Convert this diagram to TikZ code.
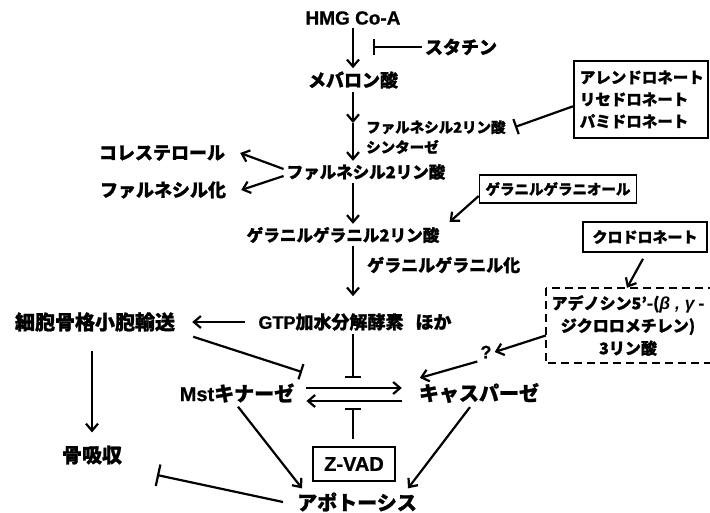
\documentclass[tikz,border=0pt]{standalone}
\usepackage{fontspec}
\setmainfont{Liberation Sans}
\newfontfamily\jp{Noto Sans CJK JP}[BoldFeatures={FakeBold=1.2}]
\newfontfamily\lat{Liberation Sans}[BoldFeatures={FakeBold=0.8}]
\usetikzlibrary{arrows.meta,calc}
\begin{document}
\begin{tikzpicture}[x=1pt,y=-1pt,
  lw/.style={line width=2.2pt},
  arr/.style={lw,-{Straight Barb[length=7pt,width=12pt]}},
  inh/.style={lw,-{Bar[width=16pt]}},
  jpL/.style={font=\jp\bfseries\fontsize{20}{24}\selectfont, inner sep=3pt},
  jpM/.style={font=\jp\bfseries\fontsize{18}{22}\selectfont, inner sep=3pt},
  jpS/.style={font=\jp\bfseries\fontsize{16}{20}\selectfont, inner sep=3pt},
  latL/.style={font=\lat\bfseries\fontsize{20}{24}\selectfont, inner sep=3pt},
  boxed/.style={draw, line width=1.6pt},
]
\useasboundingbox (0,0) rectangle (710,512);
\clip (0,0) rectangle (710,512);
\coordinate (col) at (353,0);

% top chain
\node[latL, font=\lat\bfseries\fontsize{19}{23}\selectfont] (hmg) at (353,18) {HMG Co-A};
\node[jpM] (statin) at (461,47) {スタチン};
\coordinate (statT) at (373,47);
\node[jpM] (mev) at (353,80) {メバロン酸};
\coordinate (mid) at (353,123);
\node[jpS, font=\jp\bfseries\fontsize{14.5}{20}\selectfont, anchor=west, align=left] (fpps) at (363,137) {ファルネシル2リン酸\\シンターゼ};
\node[boxed, font=\jp\bfseries\fontsize{15.5}{22}\selectfont, anchor=north west,
      minimum width=134pt, minimum height=77pt, align=left, text width=122pt,
      inner xsep=6pt] (bis) at (573,60) {アレンドロネート\\リセドロネート\\パミドロネート};
\coordinate (bisT) at (515,127);
\node[jpM, font=\jp\bfseries\fontsize{16.5}{20}\selectfont] (fpp) at (366,172) {ファルネシル2リン酸};
\node[jpM] (chol) at (162,153) {コレステロール};
\node[jpM] (farn) at (163,190) {ファルネシル化};
\node[jpM, font=\jp\bfseries\fontsize{16.6}{20}\selectfont] (ggpp) at (343,235) {ゲラニルゲラニル2リン酸};
\node[boxed, font=\jp\bfseries\fontsize{14.5}{18}\selectfont,
      minimum width=157pt, minimum height=28pt] (ggoh) at (558,189) {ゲラニルゲラニオール};
\node[jpM, font=\jp\bfseries\fontsize{17}{20}\selectfont, anchor=west] (ggl) at (364,265) {ゲラニルゲラニル化};
\node[jpM] (gtp) at (355,322) {{\lat\bfseries GTP}加水分解酵素\hspace{12pt}ほか};

% right side
\node[boxed, font=\jp\bfseries\fontsize{15}{18}\selectfont,
      minimum width=124pt, minimum height=30pt] (clod) at (645,237) {クロドロネート};
\node[minimum width=164pt, minimum height=75pt, align=center,
      font=\jp\bfseries\fontsize{16}{22.5}\selectfont] (adp) at (628,325.5)
      {アデノシン5’-({\lat\bfseries\itshape\fontsize{17.5}{22.5}\selectfont β , γ} -\\ジクロロメチレン)\\3リン酸};
\draw[line width=1.6pt, dash pattern=on 8pt off 5pt] (adp.north west) rectangle ($(adp.south east)+(60,0)$);
\node[latL, font=\lat\bfseries\fontsize{18}{22}\selectfont] (q) at (486,352) {?};

% bottom
\node[jpL] (cyto) at (95,322) {細胞骨格小胞輸送};
\node[jpL] (mst) at (237,393) {{\lat\bfseries Mst}キナーゼ};
\node[jpL] (casp) at (479,393) {キャスパーゼ};
\node[boxed, latL, minimum width=82pt, minimum height=34pt] (zvad) at (354,464) {Z-VAD};
\node[jpL] (apo) at (357,502) {アポトーシス};
\node[jpL] (bone) at (92,455) {骨吸収};
\coordinate (cytoT) at (302,372);
\coordinate (gtpT) at (353,378);
\coordinate (zT) at (353,408);
\coordinate (boneT) at (157,475);

% connectors
\draw[arr] (hmg.south -| col) -- (mev.north -| col);
\draw[inh] (statin.west) -- (statT);
\draw[arr] (mev.south -| col) -- (mid);
\draw[arr] (mid) -- (fpp.north -| col);
\draw[inh] ($(bis.west)+(0,7)$) -- (bisT);
\draw[arr] ($(fpp.west)+(0,-3)$) -- ($(chol.east)+(12,0)$);
\draw[arr] ($(fpp.west)+(0,4)$) -- ($(farn.east)+(12,0)$);
\draw[arr] (fpp.south -| col) -- (ggpp.north -| col);
\draw[arr] ($(ggoh.west)+(0,7)$) -- ($(ggpp.east)+(7,-13)$);
\draw[arr] (ggpp.south -| col) -- ($(gtp.north -| col)+(0,-14)$);
\draw[arr] ($(clod.south)+(-2,6)$) -- ($(adp.north)+(-1,0)$);
\draw[arr] ($(adp.west)+(0,10)$) -- (q.east);
\draw[arr] (q.south west) -- ($(casp.north west)+(4,-2)$);
\draw[arr] ($(gtp.west)+(-10,0)$) -- ($(cyto.east)+(14,0)$);
\draw[inh] ($(cyto.south east)+(15,2)$) -- (cytoT);
\draw[inh] (gtp.south -| col) -- (gtpT);
\draw[arr] ($(mst.east)+(9,-5)$) -- ($(casp.west)+(-14,-5)$);
\draw[arr] ($(casp.west)+(-14,8)$) -- ($(mst.east)+(9,8)$);
\draw[inh] ($(zvad.north -| col)+(0,-7)$) -- (zT);
\draw[arr] ($(mst.south)+(1,1)$) -- ($(apo.north west)+(8,-1)$);
\draw[arr] ($(casp.south)+(-9,1)$) -- ($(apo.north east)+(-12,-1)$);
\draw[arr] ($(cyto.south -| bone)+(0,16)$) -- ($(bone.north)+(0,-10)$);
\draw[lw,-{Bar[width=22pt]}] ($(apo.west)+(-11,0)$) -- (boneT);
\end{tikzpicture}
\end{document}
